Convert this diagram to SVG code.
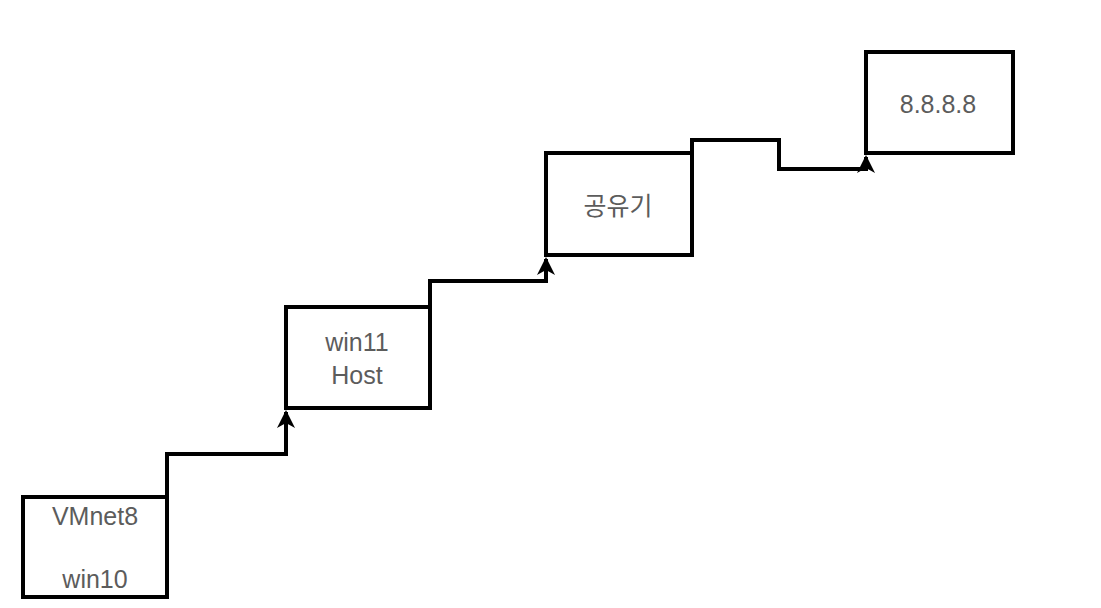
<svg xmlns="http://www.w3.org/2000/svg" width="1101" height="608" viewBox="0 0 1101 608">
<style>
.box{fill:#fff;stroke:#000;stroke-width:4}
.lbl{font-family:"Liberation Sans",Arial,sans-serif;font-size:25px;fill:#5c5c5c;text-anchor:middle}
.kr{font-family:"Liberation Sans","Noto Sans CJK KR",sans-serif}
.conn{fill:none;stroke:#000;stroke-width:4;stroke-linejoin:miter;marker-end:url(#arr)}
</style>
<defs>
<marker id="arr" markerUnits="userSpaceOnUse" markerWidth="30" markerHeight="30" refX="0" refY="0" orient="auto" overflow="visible">
<path d="M2,0 L-16,-9 L-11,0 L-16,9 Z" fill="#000"/>
</marker>
</defs>
<rect width="1101" height="608" fill="#fff"/>
<g id="connectors">
<path class="conn" d="M167,497 V454 H286 V412"/>
<path class="conn" d="M430,307 V281 H546 V259"/>
<path class="conn" d="M692,153 V140 H779 V169 H866 V157"/>
</g>
<g id="node-win10">
<rect class="box" x="23" y="497" width="144" height="100"/>
<text class="lbl" x="95" y="525">VMnet8</text>
<text class="lbl" x="95" y="588">win10</text>
</g>
<g id="node-host">
<rect class="box" x="286" y="307" width="144" height="101"/>
<text class="lbl" x="357" y="351">win11</text>
<text class="lbl" x="357" y="384">Host</text>
</g>
<g id="node-router">
<rect class="box" x="546" y="153" width="146" height="102"/>
<text class="lbl kr" x="618" y="215">공유기</text>
</g>
<g id="node-dns">
<rect class="box" x="866" y="52" width="147" height="101"/>
<text class="lbl" x="938" y="113">8.8.8.8</text>
</g>
</svg>
